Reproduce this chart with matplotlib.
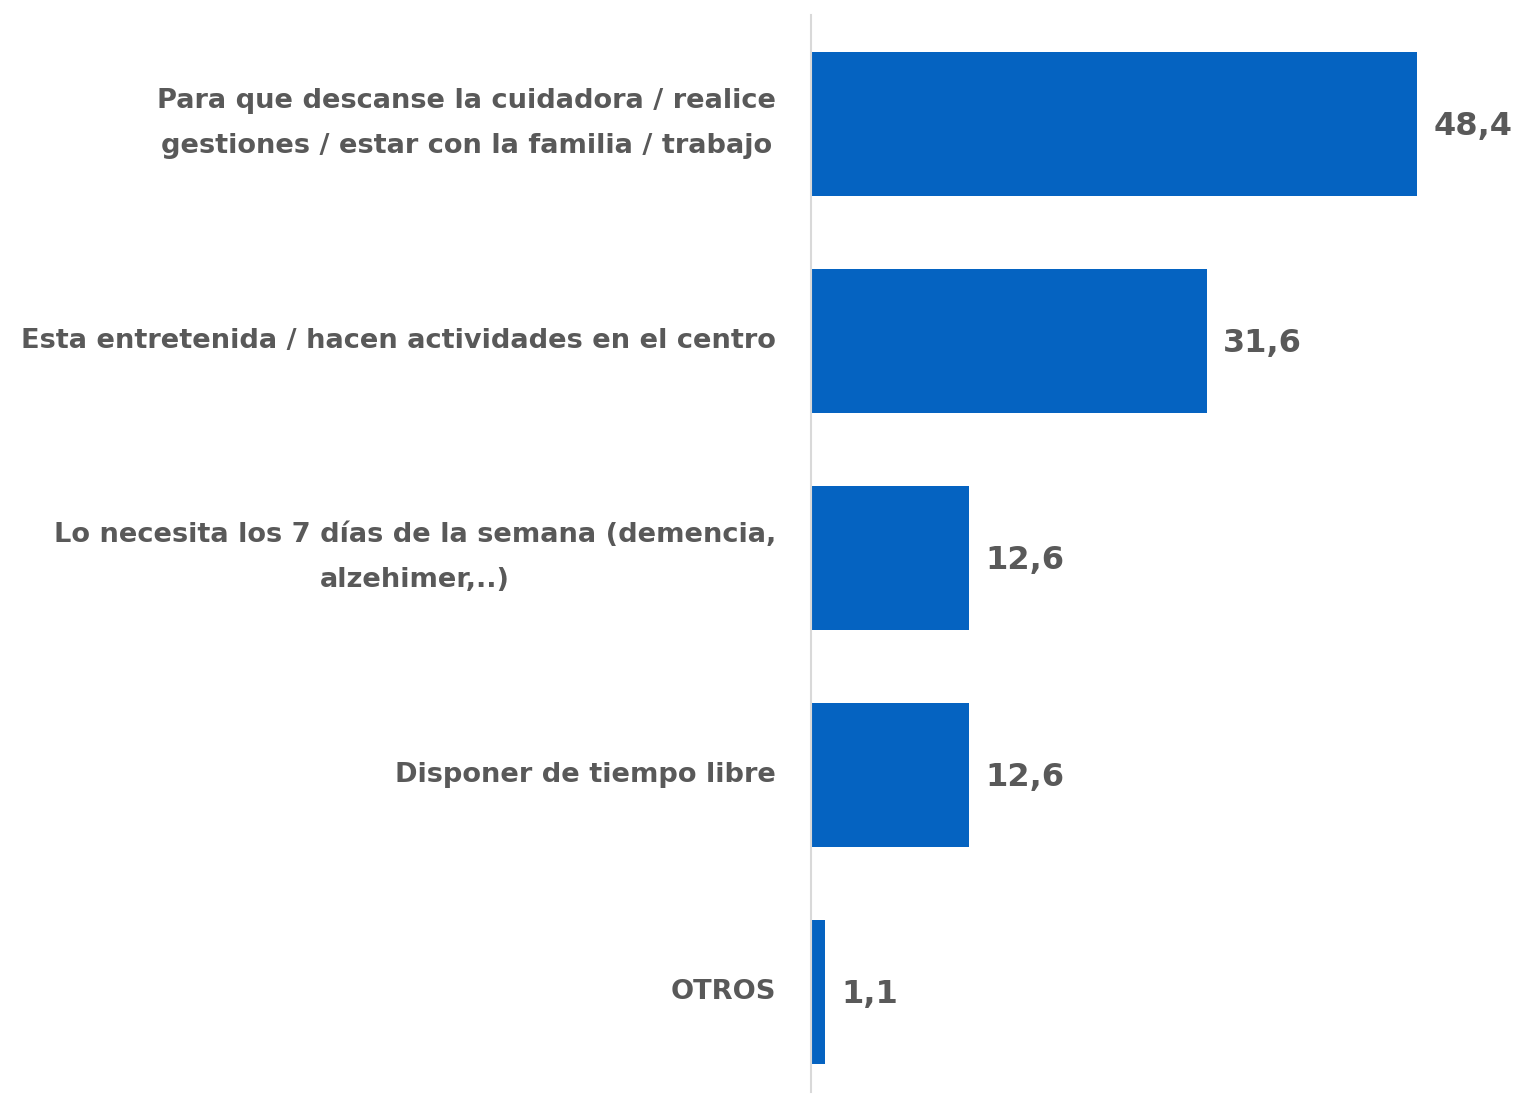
import matplotlib
matplotlib.use("Agg")
import matplotlib.pyplot as plt

# data
categories = [
    "Para que descanse la cuidadora / realice\ngestiones / estar con la familia / trabajo",
    "Esta entretenida / hacen actividades en el centro",
    "Lo necesita los 7 días de la semana (demencia,\nalzehimer,..)",
    "Disponer de tiempo libre",
    "OTROS",
]
values = [48.4, 31.6, 12.6, 12.6, 1.1]
value_labels = ["48,4", "31,6", "12,6", "12,6", "1,1"]

BAR_COLOR = "#0563C1"
TEXT_COLOR = "#595959"
FONT = "DejaVu Sans"

fig = plt.figure(figsize=(15.14, 10.94), dpi=100)
ax = fig.add_axes([811 / 1514, 2 / 1094, 703 / 1514, 1077 / 1094])

y = list(range(len(values)))
ax.barh(y, values, height=0.664, color=BAR_COLOR, zorder=2)

ax.set_xlim(0, 703 / 12.52)
ax.set_ylim(4.461, -0.502)

ax.set_yticks(y)
ax.set_yticklabels(categories, fontsize=19.6, fontweight="bold", color=TEXT_COLOR,
                   family=FONT, linespacing=1.95)
for lbl in ax.get_yticklabels():
    lbl.set_horizontalalignment("right")
    lbl.set_verticalalignment("center")
    lbl.set_multialignment("center")
ax.tick_params(axis="y", length=0, pad=25)
ax.set_xticks([])

for s in ["top", "right", "bottom"]:
    ax.spines[s].set_visible(False)
ax.spines["left"].set_color("#D9D9D9")
ax.spines["left"].set_linewidth(1.5)

for yi, v, lab in zip(y, values, value_labels):
    ax.annotate(lab, xy=(v, yi), xytext=(12, -2), textcoords="offset points",
                va="center", ha="left", fontsize=23, fontweight="bold",
                color=TEXT_COLOR, family=FONT)

fig.savefig("out.png", dpi=100)
